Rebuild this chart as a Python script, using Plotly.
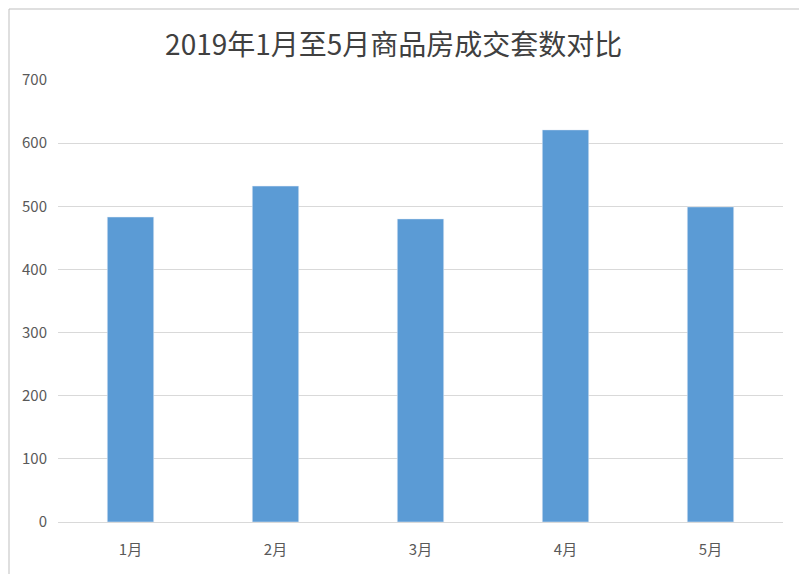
import plotly.graph_objects as go

months = ['1月', '2月', '3月', '4月', '5月']
deals = [483, 532, 480, 621, 499]
y_ticks = [0, 100, 200, 300, 400, 500, 600, 700]

fig = go.Figure(go.Bar(x=months, y=deals, marker_color='#5b9bd5', width=0.32))
fig.update_layout(
    width=807, height=574,
    font=dict(family='Noto Sans CJK SC, sans-serif', color='#595959', size=15),
    title=dict(text='2019年1月至5月商品房成交套数对比', x=0.478, y=0.935, xanchor='center',
               yanchor='middle', font=dict(size=28, color='#404040')),
    plot_bgcolor='white', paper_bgcolor='white',
    margin=dict(l=50, r=32, t=72, b=60),
    showlegend=False,
    xaxis=dict(showline=True, linecolor='#d9d9d9', ticks='', ticklabelstandoff=14),
    yaxis=dict(range=[0, 700], tickvals=y_ticks, gridcolor='#d9d9d9',
               zeroline=False, ticks='', ticklabelstandoff=10),
    shapes=[dict(type='rect', xref='paper', yref='paper', x0=-49/725, x1=1+30/725,
                 y0=-57/442, y1=1+71/442, line=dict(color='#bfbfbf', width=1))],
)
fig.write_html('out.html')
